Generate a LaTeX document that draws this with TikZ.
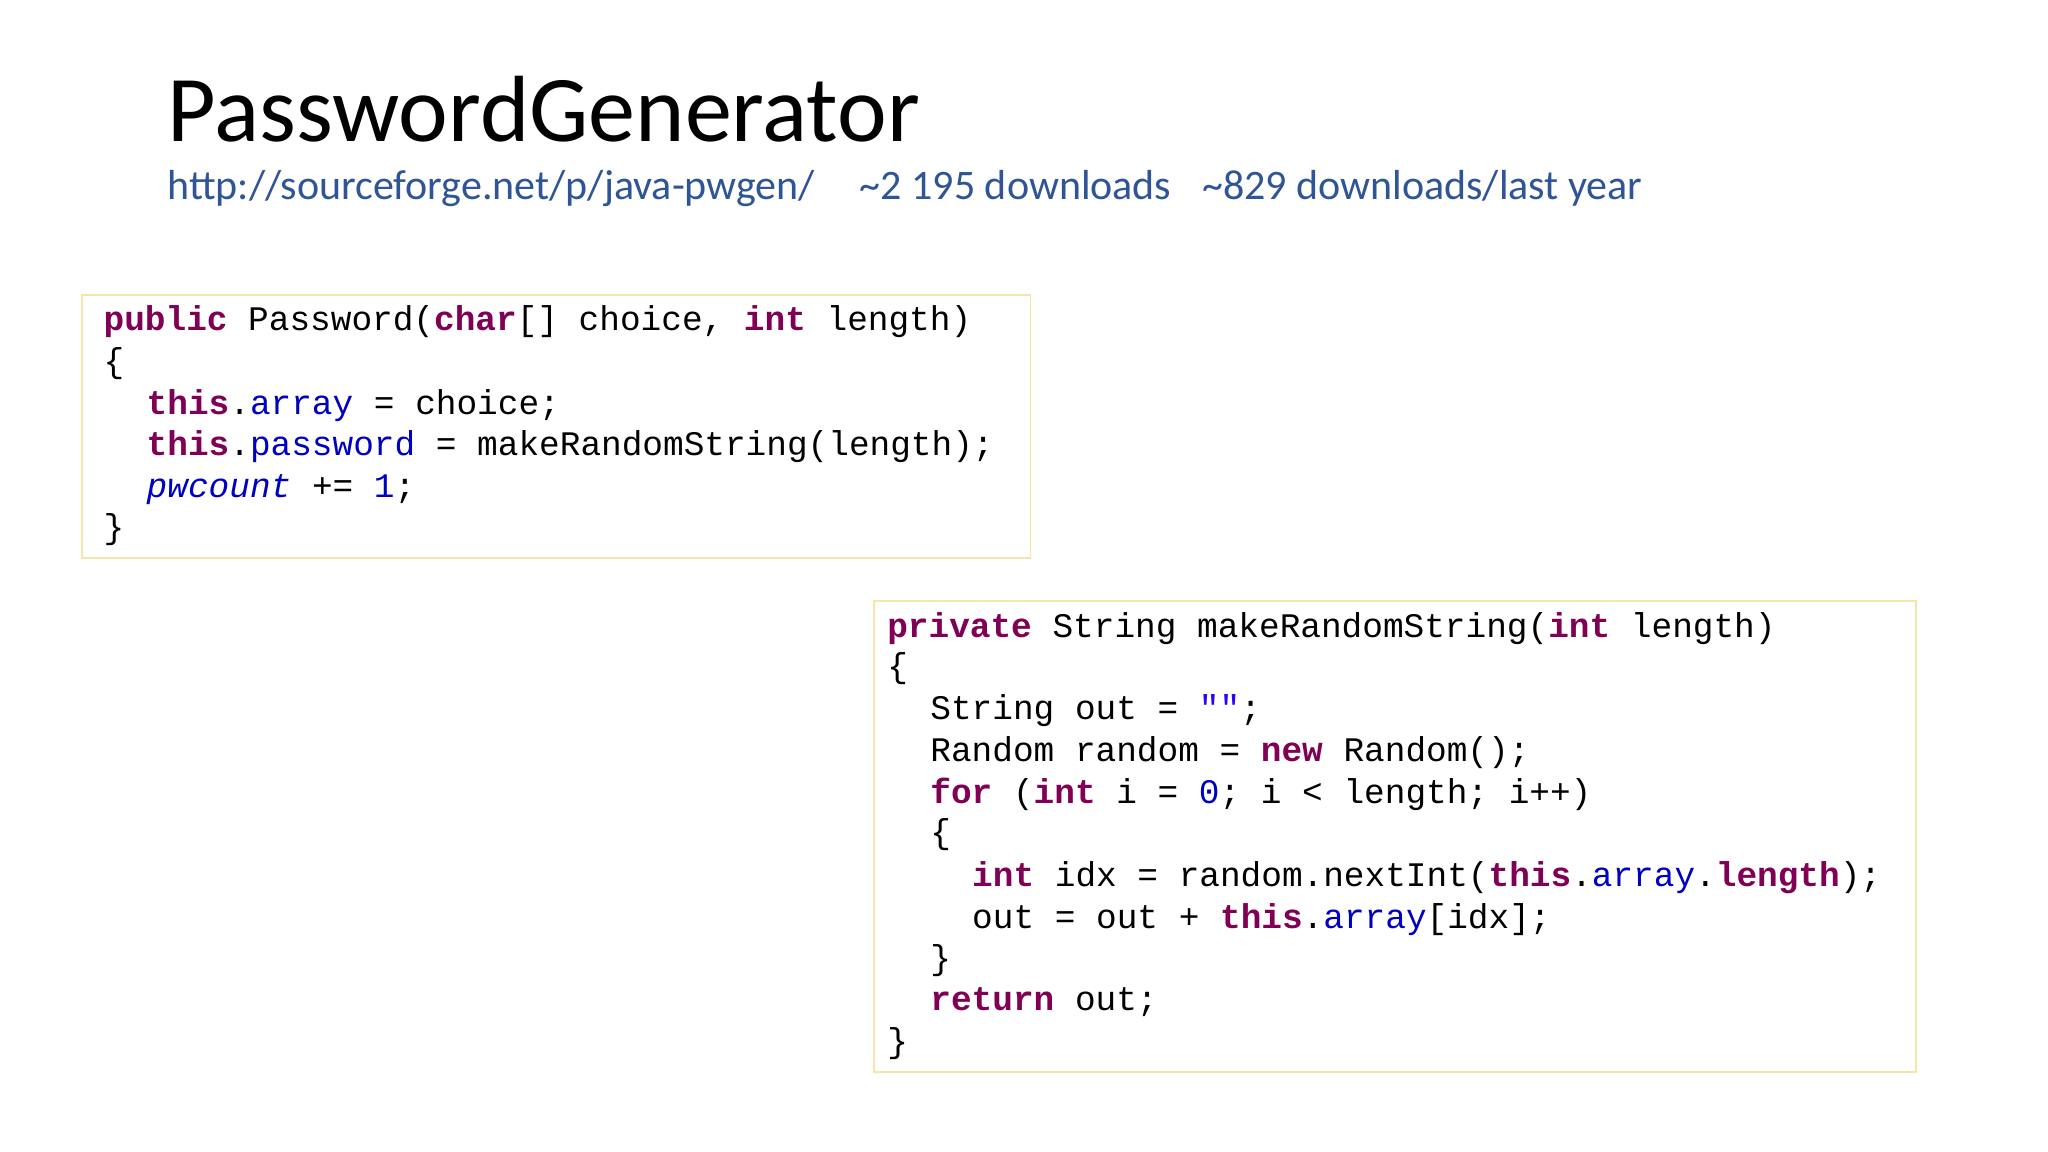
\documentclass[tikz,border=0pt]{standalone}
\usepackage{fontspec}
\setmainfont{Carlito}
\newfontfamily\codefont{Liberation Mono}
\definecolor{kw}{HTML}{7F0055}
\definecolor{fld}{HTML}{0000C0}
\definecolor{str}{HTML}{2A00FF}
\definecolor{sub}{HTML}{2F5597}
\definecolor{boxc}{HTML}{F5E6A8}
\newcommand{\kw}[1]{\textbf{\color{kw}#1}}
\newcommand{\fl}[1]{{\color{fld}#1}}
\begin{document}
\begin{tikzpicture}[x=0.02cm,y=-0.02cm,
  code/.style={anchor=base west,inner sep=0,font=\codefont\fontsize{15}{18}\selectfont},
  sub/.style={anchor=base west,inner sep=0,text=sub,font=\fontsize{18.3}{21}\selectfont},
  codebox/.style={draw=boxc,line width=0.8pt,fill=white}]
\useasboundingbox (0,0) rectangle (1568,882);
\fill[white] (0,0) rectangle (1568,882);
\node[anchor=base west,inner sep=0,font=\fontsize{41}{47}\selectfont] (title) at (128,108) {PasswordGenerator};
\node[sub] (url) at (128,153) {http://sourceforge.net/p/java-pwgen/};
\node[sub] (dl) at (658,153) {\textasciitilde 2 195 downloads};
\node[sub] (dly) at (920,153) {\textasciitilde 829 downloads/last year};
\draw[codebox] (63,226) rectangle (789,427);
\node[code] (a1) at (79,253) {\kw{public} Password(\kw{char}[] choice, \kw{int} length)};
\node[code] (a2) at (79,285) {\{};
\node[code] (a3) at (112,317) {\kw{this}.\fl{array} = choice;};
\node[code] (a4) at (112,349) {\kw{this}.\fl{password} = makeRandomString(length);};
\node[code] (a5) at (112,381) {{\itshape\color{fld}pwcount} += \fl{1};};
\node[code] (a6) at (79,412) {\}};
\draw[codebox] (669,460) rectangle (1467,821);
\node[code] (b1) at (679,488) {\kw{private} String makeRandomString(\kw{int} length)};
\node[code] (b2) at (679,519) {\{};
\node[code] (b3) at (712,551) {String out = {\color{str}""};};
\node[code] (b4) at (712,583) {Random random = \kw{new} Random();};
\node[code] (b5) at (712,615) {\kw{for} (\kw{int} i = \fl{0}; i < length; i++)};
\node[code] (b6) at (712,646) {\{};
\node[code] (b7) at (744,679) {\kw{int} idx = random.nextInt(\kw{this}.\fl{array}.\kw{length});};
\node[code] (b8) at (744,711) {out = out + \kw{this}.\fl{array}[idx];};
\node[code] (b9) at (712,742) {\}};
\node[code] (b10) at (712,774) {\kw{return} out;};
\node[code] (b11) at (679,806) {\}};
\end{tikzpicture}
\end{document}
